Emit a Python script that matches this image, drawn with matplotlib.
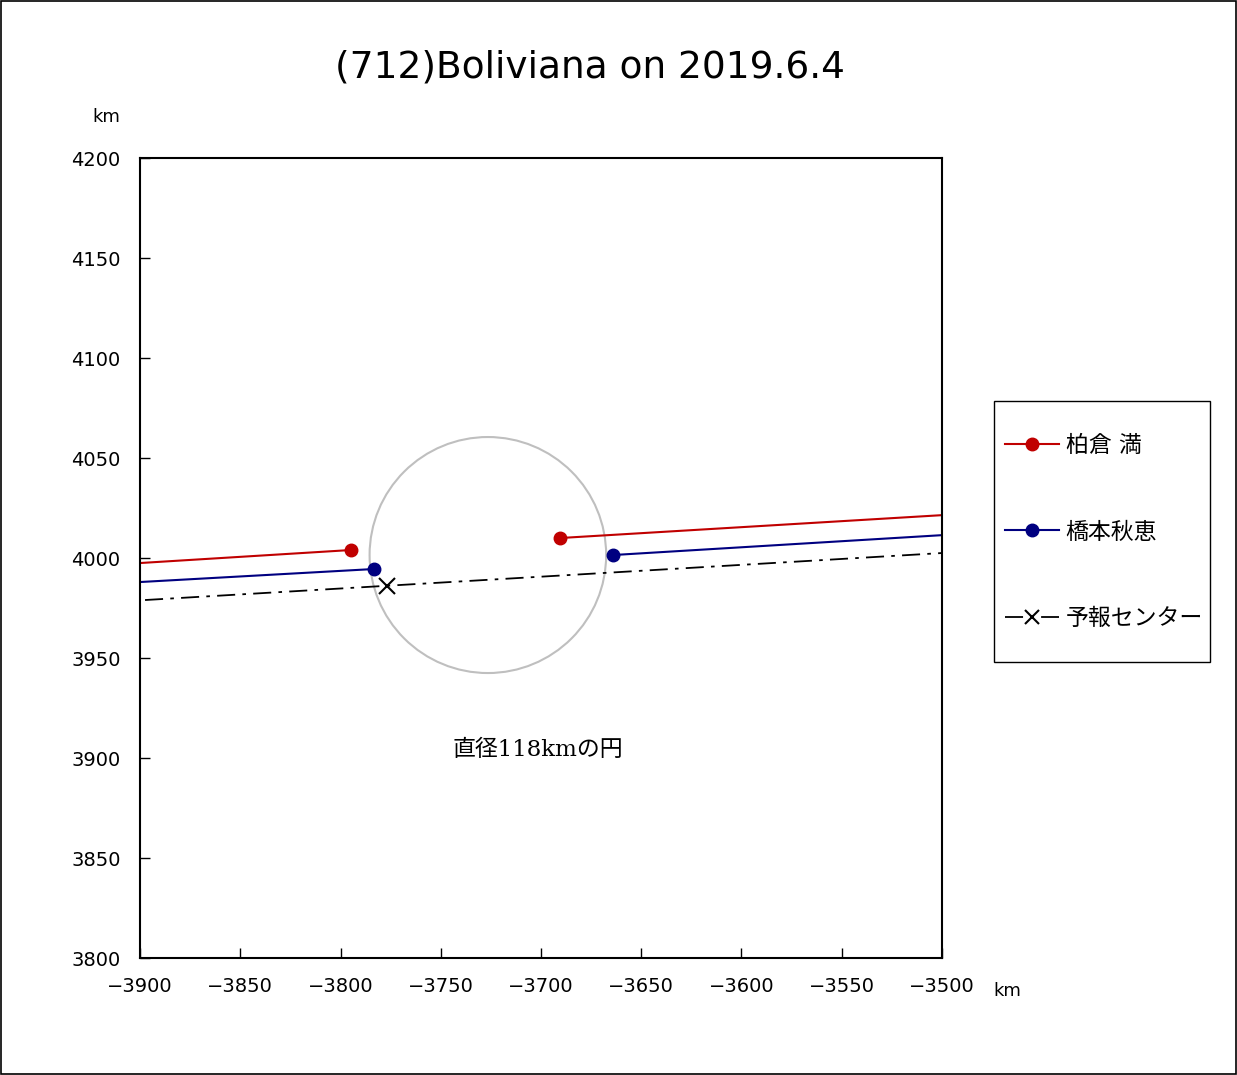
import matplotlib
matplotlib.use('Agg')
import matplotlib.pyplot as plt
from matplotlib.patches import Circle, Rectangle

plt.rcParams['font.family'] = ['DejaVu Sans', 'Noto Sans CJK JP']

# observer chords (km)
red_x1 = [-3900, -3795]
red_y1 = [3997.5, 4004]
red_x2 = [-3690.5, -3499]
red_y2 = [4010, 4021.5]

blue_x1 = [-3900, -3783.5]
blue_y1 = [3988, 3994.5]
blue_x2 = [-3664, -3499]
blue_y2 = [4001.5, 4011.5]

# predicted center line
pred_x = [-3897.5, -3500]
pred_y = [3979, 4002.5]
pred_mark_x = -3777
pred_mark_y = 3986

circle_center = (-3726.5, 4001.5)
circle_diam = 118

names = ['柏倉 満', '橋本秋恵', '予報センター']

fig = plt.figure(figsize=(12.37, 10.75), dpi=100)
ax = fig.add_axes([0.1132, 0.1088, 0.6483, 0.7442])

red = '#C00000'
blue = '#000080'

ax.plot(red_x1, red_y1, color=red, lw=1.5)
ax.plot(red_x1[-1], red_y1[-1], 'o', color=red, ms=9)
ax.plot(red_x2, red_y2, color=red, lw=1.5)
ax.plot(red_x2[0], red_y2[0], 'o', color=red, ms=9)

ax.plot(blue_x1, blue_y1, color=blue, lw=1.5)
ax.plot(blue_x1[-1], blue_y1[-1], 'o', color=blue, ms=9)
ax.plot(blue_x2, blue_y2, color=blue, lw=1.5)
ax.plot(blue_x2[0], blue_y2[0], 'o', color=blue, ms=9)

ax.plot(pred_x, pred_y, color='black', lw=1.3, dashes=[10, 4, 2, 4])
ax.plot(pred_mark_x, pred_mark_y, 'x', color='black', ms=12, mew=1.5)

ax.add_patch(Circle(circle_center, circle_diam / 2, fill=False, ec='#BFBFBF', lw=1.5))
ax.text(-3701.5, 3904, '直径118kmの円', fontsize=16.5, ha='center', va='center',
        family=['DejaVu Serif', 'Noto Sans CJK JP'])

ax.set_xlim(-3900, -3500)
ax.set_ylim(3800, 4200)
ax.set_xticks(range(-3900, -3499, 50))
ax.set_yticks(range(3800, 4201, 50))
ax.set_xticklabels(['\u2212%d' % abs(v) for v in range(-3900, -3499, 50)])
ax.tick_params(direction='in', length=7, labelsize=14, pad=14, width=1)
for s in ax.spines.values():
    s.set_linewidth(1.5)

fig.text(0.477, 0.937, '(712)Boliviana on 2019.6.4', fontsize=27, ha='center', va='center')
fig.text(0.086, 0.891, 'km', fontsize=13, ha='center', va='center')
fig.text(0.814, 0.078, 'km', fontsize=13, ha='center', va='center')

# legend handles
h1, = ax.plot([], [], color=red, marker='o', ms=9, lw=1.5)
h2, = ax.plot([], [], color=blue, marker='o', ms=9, lw=1.5)
h3, = ax.plot([], [], color='black', marker='x', ms=10, mew=1.5, lw=1.3, dashes=[10, 4, 2, 4])
leg = fig.legend([h1, h2, h3], names, loc='center left', bbox_to_anchor=(1005 / 1237, (1075 - 532) / 1075),
                 fontsize=16.5, frameon=False, labelspacing=2.75, handlelength=2.35,
                 handletextpad=0.3, borderpad=0, borderaxespad=0)
fig.patches.append(Rectangle((994 / 1237, (1075 - 662) / 1075), 216 / 1237, 261 / 1075,
                             transform=fig.transFigure, fill=False, ec='black', lw=1))

fig.patches.append(Rectangle((0.0005, 0.0005), 0.999, 0.999, transform=fig.transFigure,
                             fill=False, ec='black', lw=1.2))

fig.savefig('out.png', dpi=100)
